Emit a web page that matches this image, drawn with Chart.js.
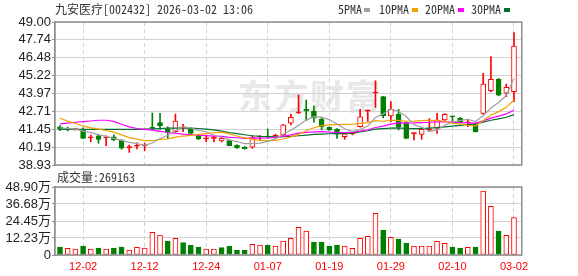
<!DOCTYPE html>
<html><head><meta charset="utf-8">
<script src="https://cdn.jsdelivr.net/npm/chart.js@4/dist/chart.umd.min.js"></script>
<style>
html,body{margin:0;padding:0;background:#fff;}
#wrap{position:relative;width:578px;height:276px;overflow:hidden;font-family:"Noto Sans Mono CJK SC","Noto Sans CJK SC",monospace;}
.t{position:absolute;font-size:12px;line-height:12px;color:#333;white-space:nowrap;}
.sq{position:absolute;width:6px;height:4px;top:8px;}
#c1{position:absolute;left:0;top:0;}
#c2{position:absolute;left:0;top:176px;}
#wm{position:absolute;left:238px;top:70px;font:bold 34px "Noto Sans CJK SC";color:#e8e8e8;letter-spacing:2px;white-space:nowrap;}
</style></head><body>
<div id="wrap">
<div id="wm">东方财富</div>
<canvas id="c1" width="578" height="176"></canvas>
<canvas id="c2" width="578" height="100"></canvas>
<div class="t" style="left:55px;top:3px">九安医疗[002432] 2026-03-02 13:06</div>
<div class="t" style="left:338px;top:3px">5PMA</div><div class="sq" style="left:364px;background:#a0a0a0"></div>
<div class="t" style="left:379px;top:3px">10PMA</div><div class="sq" style="left:412px;background:#f5a000"></div>
<div class="t" style="left:425px;top:3px">20PMA</div><div class="sq" style="left:458px;background:#ff00ff"></div>
<div class="t" style="left:471px;top:3px">30PMA</div><div class="sq" style="left:504px;background:#006f2f"></div>
<div class="t" style="left:57px;top:171px">成交量:269163</div>
</div>
<script>
const dates = ['11-27','11-28','12-01','12-02','12-03','12-04','12-05','12-08','12-09','12-10','12-11','12-12','12-15','12-16','12-17','12-18','12-19','12-22','12-23','12-24','12-25','12-26','12-29','12-30','12-31','01-05','01-06','01-07','01-08','01-09','01-12','01-13','01-14','01-15','01-16','01-19','01-20','01-21','01-22','01-23','01-26','01-27','01-28','01-29','01-30','02-02','02-03','02-04','02-05','02-06','02-09','02-10','02-11','02-12','02-13','02-24','02-25','02-26','02-27','03-02'];
const opens  = [41.61,41.50,41.43,41.44,40.85,40.99,40.83,40.92,40.69,40.15,40.26,40.28,41.58,41.91,41.45,41.28,41.55,41.50,41.00,40.78,40.80,40.62,40.65,40.33,40.20,40.18,40.90,40.97,40.85,41.04,41.87,42.60,42.85,42.73,42.15,41.58,41.46,40.92,41.11,41.63,42.72,44.00,43.74,42.38,42.52,41.91,41.14,41.09,41.40,41.52,42.10,42.35,42.22,41.90,41.80,42.57,44.16,44.96,43.98,44.09];
const highs  = [41.70,41.60,41.48,41.55,41.04,41.09,40.99,41.06,40.72,40.34,40.50,40.46,42.60,42.57,41.62,42.52,41.80,41.55,41.03,40.99,41.00,40.95,40.70,40.35,40.23,40.98,41.00,41.46,41.10,41.80,42.52,43.86,43.51,43.10,42.29,41.62,41.49,41.14,41.26,42.85,42.80,44.86,43.76,43.39,42.85,41.95,41.20,41.58,42.20,42.57,42.55,42.36,42.28,42.15,41.85,45.39,46.56,45.03,44.63,48.25];
const lows   = [41.35,41.33,41.38,40.78,40.57,40.46,40.29,40.65,40.04,39.82,40.06,39.94,41.45,41.44,40.80,41.25,41.28,41.10,40.72,40.57,40.55,40.55,40.28,40.10,40.05,40.10,40.72,40.81,40.82,41.00,41.75,42.55,42.05,41.95,41.40,41.35,40.81,40.74,41.05,41.60,42.00,42.98,42.25,41.98,41.40,40.78,40.69,40.74,41.28,41.16,42.05,41.98,41.85,41.63,41.25,42.50,44.07,43.80,43.74,43.39];
const closes = [41.44,41.45,41.47,40.81,40.88,40.74,40.86,40.69,40.11,40.18,40.29,40.32,41.52,41.70,41.25,42.03,41.58,41.16,40.76,40.81,40.83,40.80,40.30,40.13,40.08,40.90,40.93,40.90,41.02,41.75,42.29,42.62,42.73,42.22,41.63,41.40,41.10,41.12,41.23,42.33,42.75,44.03,42.38,42.85,41.63,40.81,41.16,41.44,41.45,42.10,42.50,42.32,41.91,41.93,41.28,44.63,44.96,43.84,44.40,47.31];
const volumes = [57500,47900,43100,64700,43100,50300,43100,50300,57500,36000,55100,50300,163000,143800,100700,119900,88700,71900,57500,43100,43100,52700,64700,36000,36000,76700,71900,71900,64700,100700,119900,199000,172600,93500,93500,64700,71900,64700,47900,119900,134200,299600,179800,127000,115100,86300,64700,64700,64700,98300,83900,57500,50300,55100,57500,460200,350000,172600,141400,269163];
const ma5  = [41.55,41.50,41.45,41.32,41.21,41.07,40.95,40.80,40.66,40.52,40.43,40.32,40.48,40.80,41.02,41.36,41.62,41.54,41.36,41.27,41.03,40.87,40.70,40.57,40.43,40.44,40.47,40.59,40.77,41.10,41.38,41.72,42.09,42.33,42.30,42.13,41.82,41.48,41.28,41.42,41.68,42.27,42.53,42.86,42.72,42.34,41.77,41.58,41.30,41.39,41.73,41.96,42.06,42.15,41.99,42.41,42.94,43.33,43.82,45.03];
const ma10 = [42.22,42.02,41.85,41.68,41.55,41.45,41.36,41.24,41.05,40.86,40.75,40.64,40.64,40.73,40.77,40.89,40.97,41.01,41.08,41.14,41.20,41.24,41.12,40.97,40.85,40.74,40.67,40.64,40.67,40.76,40.91,41.09,41.34,41.55,41.70,41.75,41.77,41.79,41.80,41.86,41.91,42.05,42.01,42.07,42.07,42.01,42.02,42.05,42.08,42.06,42.03,41.86,41.82,41.73,41.69,42.07,42.45,42.69,42.99,43.51];
const ma20 = [41.82,41.88,41.94,41.98,42.03,42.08,42.08,42.00,41.80,41.62,41.50,41.44,41.38,41.30,41.22,41.16,41.10,41.06,41.03,41.00,40.97,40.94,40.88,40.85,40.81,40.82,40.82,40.83,40.87,40.95,41.05,41.17,41.23,41.26,41.28,41.24,41.22,41.22,41.24,41.31,41.41,41.57,41.67,41.81,41.89,41.88,41.89,41.92,41.94,41.96,41.97,41.95,41.91,41.90,41.88,42.04,42.23,42.37,42.53,42.78];
const ma30 = [41.44,41.44,41.44,41.44,41.44,41.44,41.44,41.44,41.44,41.44,41.44,41.45,41.47,41.50,41.52,41.53,41.53,41.52,41.50,41.46,41.40,41.32,41.22,41.14,41.06,40.99,40.95,40.93,40.92,40.92,40.95,40.99,41.03,41.08,41.11,41.13,41.14,41.15,41.18,41.26,41.34,41.46,41.49,41.53,41.54,41.50,41.49,41.49,41.52,41.56,41.62,41.67,41.72,41.78,41.82,41.95,42.08,42.18,42.29,42.48];
const priceTicks = [38.93,40.19,41.45,42.71,43.97,45.22,46.48,47.74,49.00];
const volTicks = [0,122300,244500,366800,489000];
const volTickLabels = ['0','12.23万','24.45万','36.68万','48.90万'];
const dateTickIdx = [3,11,19,27,35,43,51,59];

const RED='#ff0000', GREEN='#008000', GRID='#d2d2d2', FRAME='#8e8e8e';
const up = closes.map((c,i)=>c>=opens[i]);
const thin = closes.map((c,i)=>Math.abs(c-opens[i])<0.13);
const volUp = closes.map((c,i)=> c >= (i>0 ? closes[i-1] : opens[i]));

const frame = {id:'frame', afterDatasetsDraw(chart){
  const a=chart.chartArea, c=chart.ctx;
  c.save(); c.strokeStyle=FRAME; c.lineWidth=1.5;
  c.strokeRect(Math.round(a.left)-0.25, Math.round(a.top), Math.round(a.right-a.left), Math.round(a.bottom-a.top));
  c.restore();
}};

Chart.defaults.font.family = '"Liberation Sans", Arial, "Noto Sans CJK SC", sans-serif';
Chart.defaults.animation = false;

function xScale(showLabels){
  return {
    type:'linear', min:-0.65, max:60.04, offset:false, bounds:'data',
    afterBuildTicks: s => { s.ticks = dateTickIdx.map(v=>({value:v})); },
    ticks: showLabels ? {display:true, autoSkip:false, maxRotation:0, padding:5, color:'#f00',
      font:{size:11}, callback:(v)=>dates[v]} : {display:false},
    grid:{color:GRID, offset:false, drawTicks:false, lineWidth:1},
    border:{display:false, dash:[4,3]},
    afterFit: s => { s.height = showLabels ? 21 : 0; }
  };
}
const pt = arr => arr.map((v,i)=>({x:i,y:v}));
const line = (arr,color) => ({type:'line', data:pt(arr), borderColor:color, borderWidth:1.2, pointRadius:0, tension:0, fill:false, order:0});

new Chart(document.getElementById('c1'), {
  type:'bar',
  data:{datasets:[
    line(ma5,'#a0a0a0'), line(ma10,'#f5a000'), line(ma20,'#ff00ff'), line(ma30,'#006f2f'),
    {data: opens.map((o,i)=>({x:i,y:[o,closes[i]]})), barThickness:5, minBarLength:1, grouped:false, borderSkipped:false,
     borderWidth:1, order:1,
     backgroundColor: c => up[c.dataIndex] ? (thin[c.dataIndex] ? RED : '#fff') : GREEN,
     borderColor: c => up[c.dataIndex] ? RED : GREEN},
    {data: lows.map((l,i)=>({x:i,y:[l,highs[i]]})), barThickness:1, grouped:false, borderWidth:0, order:2,
     backgroundColor: c => up[c.dataIndex] ? RED : GREEN}
  ]},
  options:{
    responsive:false, animation:false,
    layout:{padding:{left:0,right:56,top:22,bottom:11}},
    plugins:{legend:{display:false}, tooltip:{enabled:false}},
    scales:{
      x: xScale(false),
      y: {min:38.93, max:49.00, beginAtZero:false,
          afterBuildTicks: s => { s.ticks = priceTicks.map(v=>({value:v})); },
          ticks:{autoSkip:false, padding:1, color:'#222', font:{size:13}, callback:v=>v.toFixed(2)},
          grid:{color:GRID, tickLength:3, tickColor:FRAME},
          border:{color:FRAME, width:1.5},
          afterFit: s => { s.width = 55; }}
    }
  },
  plugins:[frame]
});

new Chart(document.getElementById('c2'), {
  type:'bar',
  data:{datasets:[
    {data: volumes.map((v,i)=>({x:i,y:v})), barThickness:5, grouped:false, borderSkipped:false, borderWidth:1,
     backgroundColor: c => volUp[c.dataIndex] ? '#fff' : GREEN,
     borderColor: c => volUp[c.dataIndex] ? RED : GREEN}
  ]},
  options:{
    responsive:false, animation:false,
    layout:{padding:{left:0,right:56,top:11,bottom:0}},
    plugins:{legend:{display:false}, tooltip:{enabled:false}},
    scales:{
      x: xScale(true),
      y: {min:0, max:489000,
          afterBuildTicks: s => { s.ticks = volTicks.map(v=>({value:v})); },
          ticks:{autoSkip:false, padding:1, color:'#222', font:{size:13}, callback:(v,i)=>volTickLabels[i]},
          grid:{color:GRID, tickLength:3, tickColor:FRAME},
          border:{color:FRAME, width:1.5},
          afterFit: s => { s.width = 55; }}
    }
  },
  plugins:[frame]
});
</script>
</body></html>
